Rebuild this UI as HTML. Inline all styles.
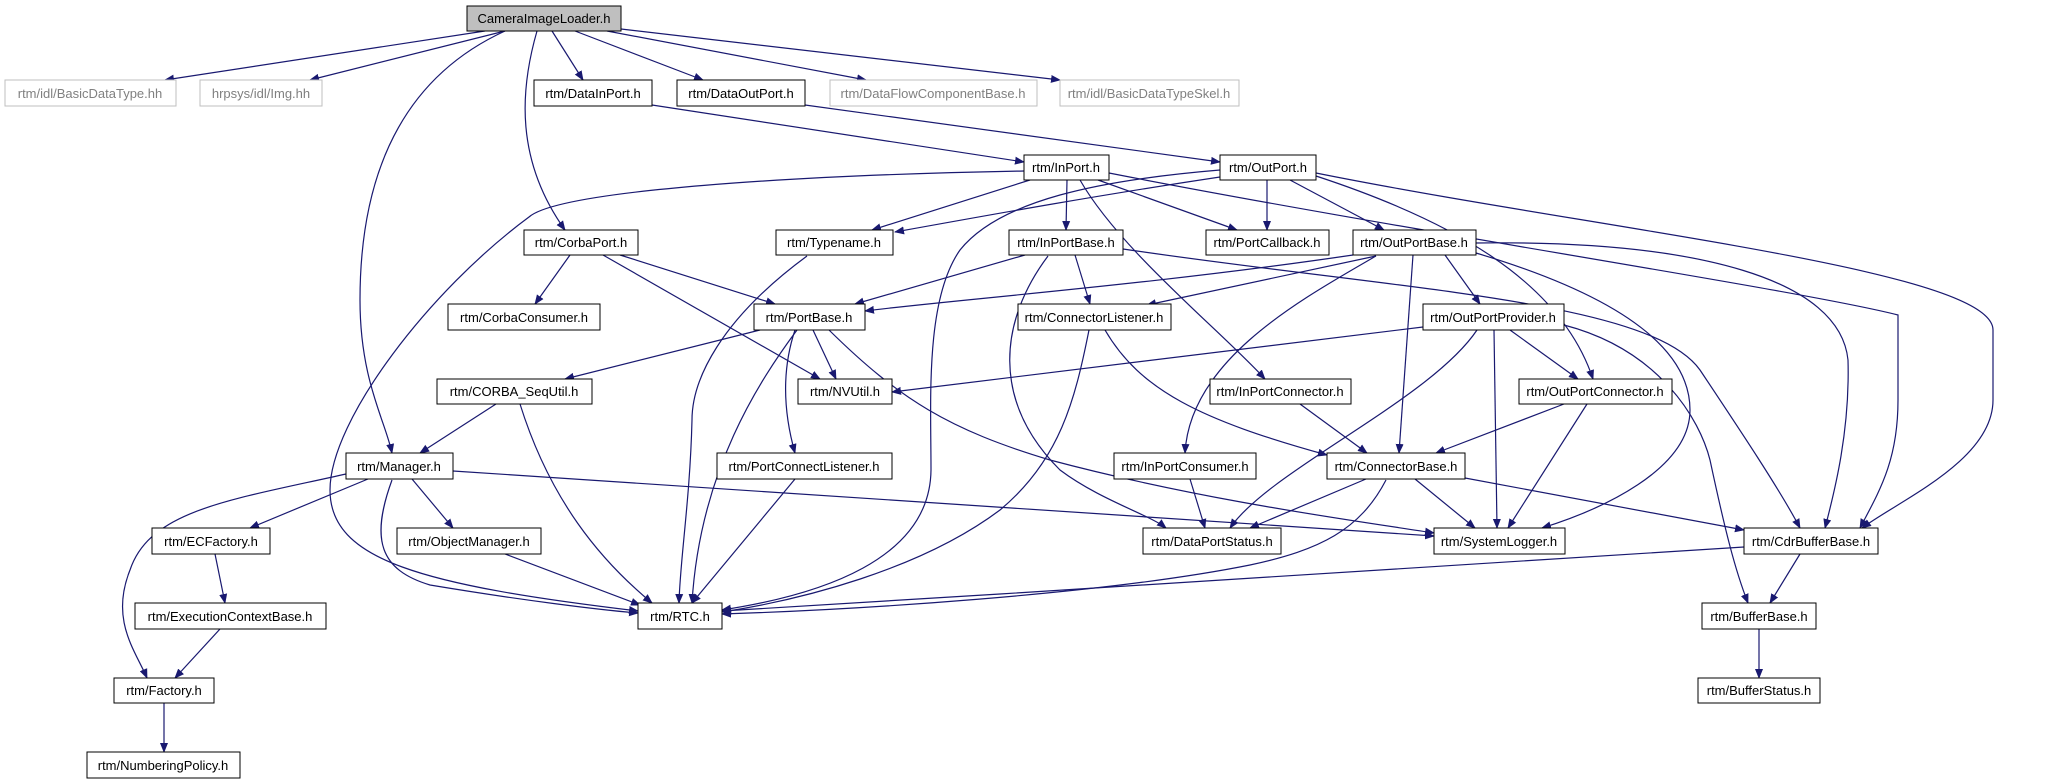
<!DOCTYPE html>
<html><head><meta charset="utf-8"><style>
html,body{margin:0;padding:0;background:#fff;}
svg{display:block;}
text{font-family:"Liberation Sans",sans-serif;font-size:13px;text-anchor:middle;fill:#000;}
.g text{fill:#808080;}
</style></head><body>
<svg width="2059" height="784" viewBox="0 0 2059 784" xmlns="http://www.w3.org/2000/svg">
<defs><marker id="a" viewBox="0 0 10 10" refX="9" refY="5" markerWidth="10" markerHeight="10" markerUnits="userSpaceOnUse" orient="auto"><path d="M0,1 L10,5 L0,9 z" fill="#191970"/></marker></defs>
<g fill="none" stroke="#191970" stroke-width="1.2" marker-end="url(#a)">
<path d="M485,31 L165,80"/>
<path d="M505,31 L310,80"/>
<path d="M505,31 C420,70 360,150 360,300 C360,380 385,420 392,453"/>
<path d="M537,31 C520,90 515,160 565,230"/>
<path d="M552,31 L583,80"/>
<path d="M575,31 L703,80"/>
<path d="M607,31 L866,80"/>
<path d="M621,29 L1060,80"/>
<path d="M652,105 L1024,162"/>
<path d="M805,105 L1220,162"/>
<path d="M1024,171 C800,175 560,190 529,217 C430,290 330,420 330,490 C330,560 420,585 638,611"/>
<path d="M1220,170 C1100,180 1000,200 960,250 C925,300 931,400 931,470 C930,560 820,595 722,610"/>
<path d="M1220,177 C1100,195 1000,213 895,232"/>
<path d="M1030,180 L872,230"/>
<path d="M1067,180 L1066,230"/>
<path d="M1098,180 L1237,230"/>
<path d="M1080,180 C1120,250 1220,330 1265,379"/>
<path d="M1109,173 C1400,230 1800,290 1898,315 L1898,400 C1898,460 1880,490 1860,528"/>
<path d="M1267,180 L1267,230"/>
<path d="M1290,180 L1384,230"/>
<path d="M1316,176 C1450,220 1560,280 1593,379"/>
<path d="M1316,173 C1600,230 1993,270 1993,330 L1993,400 C1993,460 1900,500 1862,528"/>
<path d="M1476,243 C1700,240 1840,280 1848,360 C1850,430 1835,490 1825,528"/>
<path d="M1476,253 C1600,290 1690,340 1690,410 C1690,470 1600,510 1542,528"/>
<path d="M1445,255 L1480,304"/>
<path d="M1413,255 L1399,453"/>
<path d="M1376,256 L1147,305"/>
<path d="M1353,255 C1150,285 950,300 865,311"/>
<path d="M1376,256 C1300,300 1190,360 1185,453"/>
<path d="M1048,256 C1000,320 990,400 1060,470 C1100,500 1150,515 1166,528"/>
<path d="M1477,330 C1430,400 1270,470 1230,528"/>
<path d="M1123,249 C1400,290 1650,300 1700,370 C1740,430 1780,490 1800,528"/>
<path d="M1564,325 C1660,350 1700,420 1710,460 C1725,530 1735,570 1748,603"/>
<path d="M1075,255 L1090,304"/>
<path d="M1025,255 L855,304"/>
<path d="M570,255 L535,304"/>
<path d="M620,255 L775,304"/>
<path d="M603,255 L820,379"/>
<path d="M807,256 C720,320 692,380 692,420 C690,500 680,560 679,603"/>
<path d="M760,330 L565,379"/>
<path d="M813,330 L836,379"/>
<path d="M797,330 C760,380 700,470 692,603"/>
<path d="M795,330 C785,360 780,400 795,453"/>
<path d="M829,330 C900,400 950,430 1050,460 C1200,500 1350,520 1434,533"/>
<path d="M1423,327 L892,392"/>
<path d="M1494,330 L1497,528"/>
<path d="M1510,330 L1578,379"/>
<path d="M1089,330 C1075,400 1060,460 1000,510 C920,570 800,600 722,612"/>
<path d="M1105,330 C1140,390 1200,420 1327,455"/>
<path d="M1300,404 L1367,453"/>
<path d="M1564,404 L1436,453"/>
<path d="M1587,404 L1508,528"/>
<path d="M496,404 L420,453"/>
<path d="M520,404 C550,500 600,560 652,603"/>
<path d="M346,474 C230,500 150,510 130,570 C110,620 135,650 147,678"/>
<path d="M368,479 L250,528"/>
<path d="M392,480 C370,540 380,570 430,585 C520,600 600,610 638,613"/>
<path d="M412,479 L453,528"/>
<path d="M453,471 L1434,536"/>
<path d="M505,554 L640,605"/>
<path d="M795,479 L692,603"/>
<path d="M215,554 L225,603"/>
<path d="M220,629 L175,678"/>
<path d="M164,703 L164,752"/>
<path d="M1190,479 L1205,528"/>
<path d="M1366,479 L1250,528"/>
<path d="M1415,479 L1475,528"/>
<path d="M1465,478 L1744,530"/>
<path d="M1386,480 C1360,530 1320,550 1250,565 C1100,595 850,610 722,614"/>
<path d="M1744,547 L1000,594 L722,611"/>
<path d="M1800,554 L1770,603"/>
<path d="M1759,629 L1759,678"/>
</g>
<g>
<rect x="467" y="6" width="154" height="25" fill="#bfbfbf" stroke="#000"/><text x="544" y="23">CameraImageLoader.h</text>
</g>
<g class="g" fill="#fff" stroke="#bfbfbf">
<rect x="5" y="80" width="171" height="26"/>
<rect x="200" y="80" width="122" height="26"/>
<rect x="830" y="80" width="207" height="26"/>
<rect x="1060" y="80" width="179" height="26"/>
</g>
<g class="g">
<text x="90" y="98">rtm/idl/BasicDataType.hh</text>
<text x="261" y="98">hrpsys/idl/Img.hh</text>
<text x="933" y="98">rtm/DataFlowComponentBase.h</text>
<text x="1149" y="98">rtm/idl/BasicDataTypeSkel.h</text>
</g>
<g fill="#fff" stroke="#000">
<rect x="534" y="80" width="118" height="26"/>
<rect x="677" y="80" width="128" height="26"/>
<rect x="1024" y="155" width="85" height="25"/>
<rect x="1220" y="155" width="96" height="25"/>
<rect x="524" y="230" width="114" height="25"/>
<rect x="776" y="230" width="117" height="25"/>
<rect x="1009" y="230" width="114" height="25"/>
<rect x="1206" y="230" width="123" height="25"/>
<rect x="1353" y="230" width="123" height="25"/>
<rect x="448" y="304" width="152" height="26"/>
<rect x="754" y="304" width="111" height="26"/>
<rect x="1018" y="304" width="153" height="26"/>
<rect x="1423" y="304" width="141" height="26"/>
<rect x="437" y="379" width="155" height="25"/>
<rect x="798" y="379" width="94" height="25"/>
<rect x="1210" y="379" width="141" height="25"/>
<rect x="1519" y="379" width="153" height="25"/>
<rect x="346" y="453" width="107" height="26"/>
<rect x="717" y="453" width="175" height="26"/>
<rect x="1114" y="453" width="142" height="26"/>
<rect x="1327" y="453" width="138" height="26"/>
<rect x="152" y="528" width="118" height="26"/>
<rect x="397" y="528" width="144" height="26"/>
<rect x="1143" y="528" width="138" height="26"/>
<rect x="1434" y="528" width="131" height="26"/>
<rect x="1744" y="528" width="134" height="26"/>
<rect x="135" y="603" width="191" height="26"/>
<rect x="638" y="603" width="84" height="26"/>
<rect x="1702" y="603" width="114" height="26"/>
<rect x="114" y="678" width="100" height="25"/>
<rect x="1698" y="678" width="122" height="25"/>
<rect x="87" y="752" width="153" height="26"/>
</g>
<g>
<text x="593" y="98">rtm/DataInPort.h</text>
<text x="741" y="98">rtm/DataOutPort.h</text>
<text x="1066" y="172">rtm/InPort.h</text>
<text x="1268" y="172">rtm/OutPort.h</text>
<text x="581" y="247">rtm/CorbaPort.h</text>
<text x="834" y="247">rtm/Typename.h</text>
<text x="1066" y="247">rtm/InPortBase.h</text>
<text x="1267" y="247">rtm/PortCallback.h</text>
<text x="1414" y="247">rtm/OutPortBase.h</text>
<text x="524" y="322">rtm/CorbaConsumer.h</text>
<text x="809" y="322">rtm/PortBase.h</text>
<text x="1094" y="322">rtm/ConnectorListener.h</text>
<text x="1493" y="322">rtm/OutPortProvider.h</text>
<text x="514" y="396">rtm/CORBA_SeqUtil.h</text>
<text x="845" y="396">rtm/NVUtil.h</text>
<text x="1280" y="396">rtm/InPortConnector.h</text>
<text x="1595" y="396">rtm/OutPortConnector.h</text>
<text x="399" y="471">rtm/Manager.h</text>
<text x="804" y="471">rtm/PortConnectListener.h</text>
<text x="1185" y="471">rtm/InPortConsumer.h</text>
<text x="1396" y="471">rtm/ConnectorBase.h</text>
<text x="211" y="546">rtm/ECFactory.h</text>
<text x="469" y="546">rtm/ObjectManager.h</text>
<text x="1212" y="546">rtm/DataPortStatus.h</text>
<text x="1499" y="546">rtm/SystemLogger.h</text>
<text x="1811" y="546">rtm/CdrBufferBase.h</text>
<text x="230" y="621">rtm/ExecutionContextBase.h</text>
<text x="680" y="621">rtm/RTC.h</text>
<text x="1759" y="621">rtm/BufferBase.h</text>
<text x="164" y="695">rtm/Factory.h</text>
<text x="1759" y="695">rtm/BufferStatus.h</text>
<text x="163" y="770">rtm/NumberingPolicy.h</text>
</g>
</svg>
</body></html>
